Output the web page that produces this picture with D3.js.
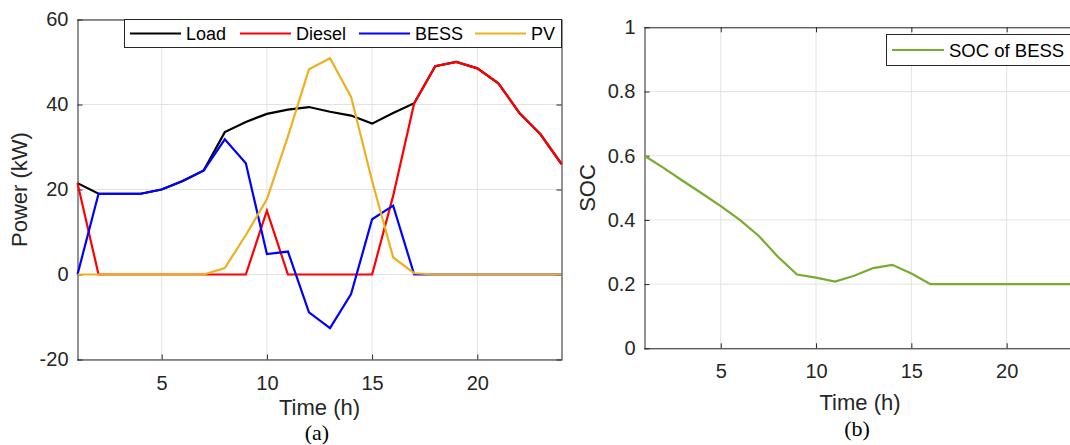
<!DOCTYPE html>
<html>
<head>
<meta charset="utf-8">
<script src="https://cdn.jsdelivr.net/npm/d3@7"></script>
<style>
  html, body { margin: 0; padding: 0; background: #fff; overflow: hidden; }
  svg { display: block; font-family: "Liberation Sans", Arial, sans-serif; }
</style>
</head>
<body>
<svg id="chart" width="1070" height="445"></svg>
<script>
// ---- data ----
const hours = d3.range(1, 25);
const load   = [21.5, 19, 19, 19, 20, 22, 24.5, 33.5, 35.9, 37.8, 38.8, 39.4, 38.3, 37.4, 35.5, 38, 40.3, 49, 50, 48.5, 45, 38, 33, 26];
const diesel = [21.5, 0, 0, 0, 0, 0, 0, 0, 0, 15, 0, 0, 0, 0, 0, 18.5, 40.3, 49, 50, 48.5, 45, 38, 33, 26];
const bess   = [0, 19, 19, 19, 20, 22, 24.5, 31.8, 26.2, 4.8, 5.4, -8.9, -12.6, -4.6, 13, 16.2, 0, 0, 0, 0, 0, 0, 0, 0];
const pv     = [0, 0, 0, 0, 0, 0, 0, 1.5, 9.3, 17.7, 32.5, 48.3, 50.9, 41.8, 22, 4, 0.3, 0, 0, 0, 0, 0, 0, 0];
const soc    = [0.6, 0.562, 0.522, 0.483, 0.443, 0.4, 0.35, 0.285, 0.23, 0.22, 0.208, 0.226, 0.25, 0.26, 0.233, 0.2, 0.2, 0.2, 0.2, 0.2, 0.2, 0.2, 0.2, 0.2];
const seriesNames = ["Load", "Diesel", "BESS", "PV"];
const seriesColors = ["#000000", "#ff0000", "#0000ff", "#EDB120"];
const xTicks = [5, 10, 15, 20];
const yTicksA = [-20, 0, 20, 40, 60];
const yTicksB = [0, 0.2, 0.4, 0.6, 0.8, 1];

const svg = d3.select("#chart");
const axisColor = "#262626";
const gridColor = "#e3e3e3";
const plainFormat = d => String(d);

function styleAxis(g, fontSize) {
  g.select(".domain").remove();
  g.selectAll(".tick line").attr("stroke", axisColor).attr("stroke-width", 1);
  g.selectAll(".tick text").attr("fill", axisColor).attr("font-size", fontSize)
    .attr("font-family", "Liberation Sans, Arial, sans-serif");
}

function panel(opts) {
  const { x, y, xTickVals, yTickVals, drawRight } = opts;
  const g = svg.append("g");
  const [x0, x1] = x.range();
  const [y0, y1] = y.range(); // y0 bottom, y1 top
  // grid
  g.append("g").selectAll("line").data(xTickVals).join("line")
    .attr("x1", d => x(d)).attr("x2", d => x(d)).attr("y1", y1).attr("y2", y0)
    .attr("stroke", gridColor).attr("stroke-width", 1);
  g.append("g").selectAll("line").data(yTickVals).join("line")
    .attr("x1", x0).attr("x2", x1).attr("y1", d => y(d)).attr("y2", d => y(d))
    .attr("stroke", gridColor).attr("stroke-width", 1);
  // axes
  const bottom = g.append("g").attr("transform", `translate(0,${y0})`)
    .call(d3.axisBottom(x).tickValues(xTickVals).tickSize(-5).tickSizeOuter(0).tickPadding(16).tickFormat(plainFormat));
  styleAxis(bottom, 20);
  const top = g.append("g").attr("transform", `translate(0,${y1})`)
    .call(d3.axisTop(x).tickValues(xTickVals).tickSize(-5).tickSizeOuter(0).tickFormat(""));
  styleAxis(top, 20);
  const left = g.append("g").attr("transform", `translate(${x0},0)`)
    .call(d3.axisLeft(y).tickValues(yTickVals).tickSize(-5).tickSizeOuter(0).tickPadding(9).tickFormat(plainFormat));
  styleAxis(left, 20);
  if (drawRight) {
    const right = g.append("g").attr("transform", `translate(${x1},0)`)
      .call(d3.axisRight(y).tickValues(yTickVals).tickSize(-5).tickSizeOuter(0).tickFormat(""));
    styleAxis(right, 20);
  }
  // box
  g.append("line").attr("x1", x0).attr("x2", x1).attr("y1", y0 + 0.5).attr("y2", y0 + 0.5).attr("stroke", axisColor);
  g.append("line").attr("x1", x0).attr("x2", x1).attr("y1", y1 + 0.5).attr("y2", y1 + 0.5).attr("stroke", axisColor);
  g.append("line").attr("x1", x0 + 0.5).attr("x2", x0 + 0.5).attr("y1", y1).attr("y2", y0 + 1).attr("stroke", axisColor);
  if (drawRight) g.append("line").attr("x1", x1 + 0.5).attr("x2", x1 + 0.5).attr("y1", y1).attr("y2", y0 + 1).attr("stroke", axisColor);
  return g;
}

// ---- panel (a) ----
const xA = d3.scaleLinear().domain([1, 24]).range([77.5, 561.5]);
const yA = d3.scaleLinear().domain([-20, 60]).range([359.5, 19.5]);
const gA = panel({ x: xA, y: yA, xTickVals: xTicks, yTickVals: yTicksA, drawRight: true });

const lineA = d3.line().x((d, i) => xA(hours[i])).y(d => yA(d));
[load, diesel, bess, pv].forEach((s, k) => {
  gA.append("path").datum(s).attr("d", lineA).attr("fill", "none")
    .attr("stroke", seriesColors[k]).attr("stroke-width", 2.2).attr("stroke-linejoin", "miter");
});

// legend (a)
const legA = gA.append("g");
legA.append("rect").attr("x", 124.5).attr("y", 19.5).attr("width", 437).attr("height", 28)
  .attr("fill", "#fff").attr("stroke", axisColor).attr("stroke-width", 1);
const legXs = [130, 240, 359, 475];
seriesNames.forEach((n, k) => {
  legA.append("line").attr("x1", legXs[k]).attr("x2", legXs[k] + 51).attr("y1", 33.5).attr("y2", 33.5)
    .attr("stroke", seriesColors[k]).attr("stroke-width", 2.2);
  legA.append("text").attr("x", legXs[k] + 56).attr("y", 40).attr("font-size", 18).attr("fill", "#000").text(n);
});

// labels (a)
svg.append("text").attr("transform", "translate(27,189.5) rotate(-90)").attr("text-anchor", "middle")
  .attr("font-size", 22).attr("fill", axisColor).text("Power (kW)");
svg.append("text").attr("x", 319.5).attr("y", 415).attr("text-anchor", "middle")
  .attr("font-size", 22).attr("fill", axisColor).text("Time (h)");
svg.append("text").attr("x", 317).attr("y", 440).attr("text-anchor", "middle")
  .attr("font-family", "Liberation Serif, Times New Roman, serif").attr("font-size", 22).attr("fill", "#000").text("(a)");

// ---- panel (b) ----
const xB = d3.scaleLinear().domain([1, 24]).range([644.5, 1082.9]);
const yB = d3.scaleLinear().domain([0, 1]).range([348.3, 27.3]);
const gB = panel({ x: xB, y: yB, xTickVals: xTicks, yTickVals: yTicksB, drawRight: false });

const lineB = d3.line().x((d, i) => xB(hours[i])).y(d => yB(d));
gB.append("path").datum(soc).attr("d", lineB).attr("fill", "none")
  .attr("stroke", "#77AC30").attr("stroke-width", 2.2);

const legB = gB.append("g");
legB.append("rect").attr("x", 886.5).attr("y", 34.5).attr("width", 200).attr("height", 31)
  .attr("fill", "#fff").attr("stroke", axisColor).attr("stroke-width", 1);
legB.append("line").attr("x1", 892).attr("x2", 944).attr("y1", 50).attr("y2", 50)
  .attr("stroke", "#77AC30").attr("stroke-width", 2.2);
legB.append("text").attr("x", 949).attr("y", 57).attr("font-size", 18.5).attr("fill", "#000").text("SOC of BESS");

svg.append("text").attr("transform", "translate(595,188) rotate(-90)").attr("text-anchor", "middle")
  .attr("font-size", 22).attr("fill", axisColor).text("SOC");
svg.append("text").attr("x", 860).attr("y", 410).attr("text-anchor", "middle")
  .attr("font-size", 22).attr("fill", axisColor).text("Time (h)");
svg.append("text").attr("x", 857).attr("y", 436).attr("text-anchor", "middle")
  .attr("font-family", "Liberation Serif, Times New Roman, serif").attr("font-size", 22).attr("fill", "#000").text("(b)");
</script>
</body>
</html>
